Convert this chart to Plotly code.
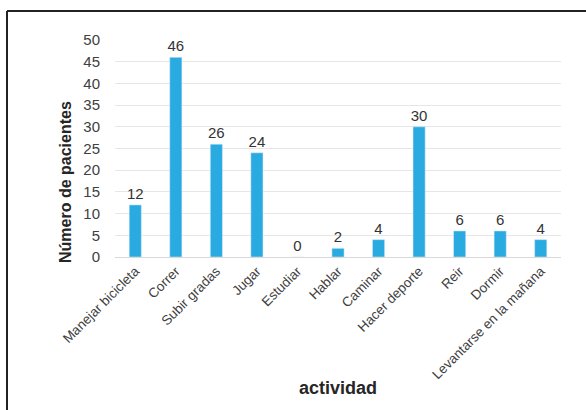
import plotly.graph_objects as go

categories = ["Manejar bicicleta", "Correr", "Subir gradas", "Jugar", "Estudiar",
              "Hablar", "Caminar", "Hacer deporte", "Reir", "Dormir",
              "Levantarse en la mañana"]
values = [12, 46, 26, 24, 0, 2, 4, 30, 6, 6, 4]
y_ticks = [0, 5, 10, 15, 20, 25, 30, 35, 40, 45, 50]

W, H = 586, 410
L, R, T, B = 115, 25, 40, 153
pw, ph = W - L - R, H - T - B

fig = go.Figure(go.Bar(
    x=categories, y=values, marker_color="#29abe2",
    text=[str(v) for v in values], textposition="outside", cliponaxis=False,
    constraintext="none",
    textfont=dict(size=15, color="#333333", family="Liberation Sans, Arial"),
))

def px_x(p):
    return (p - L) / pw

def px_y(p):
    return 1 - (p - T) / ph

fig.update_layout(
    width=W, height=H,
    margin=dict(l=L, r=R, t=T, b=B),
    paper_bgcolor="white", plot_bgcolor="white",
    bargap=0.7, showlegend=False,
    font=dict(family="Liberation Sans, Arial", color="#404040"),
    xaxis=dict(tickangle=-45, tickfont=dict(size=13.5, color="#404040"),
               showline=True, linecolor="#d9d9d9", linewidth=1,
               ticks="", showgrid=False),
    yaxis=dict(range=[0, 50], tickvals=y_ticks, tickfont=dict(size=15, color="#404040"),
               showgrid=True, gridcolor="#e6e6e6", gridwidth=1, zeroline=False,
               ticklabelstandoff=14),
    shapes=[
        dict(type="line", xref="paper", yref="paper",
             x0=px_x(7), x1=px_x(7), y0=px_y(11), y1=px_y(H + 5),
             line=dict(color="#222222", width=2)),
        dict(type="line", xref="paper", yref="paper",
             x0=px_x(7), x1=px_x(W + 5), y0=px_y(11), y1=px_y(11),
             line=dict(color="#222222", width=2)),
    ],
    annotations=[
        dict(text="<b>Número de pacientes</b>", xref="paper", yref="paper",
             x=px_x(65), y=px_y(182), textangle=-90, showarrow=False,
             font=dict(size=16, color="#262626"), xanchor="center", yanchor="middle"),
        dict(text="<b>actividad</b>", xref="paper", yref="paper",
             x=px_x(338), y=px_y(388), showarrow=False,
             font=dict(size=18, color="#262626"), xanchor="center", yanchor="middle"),
    ],
)

fig.write_html("out.html")
